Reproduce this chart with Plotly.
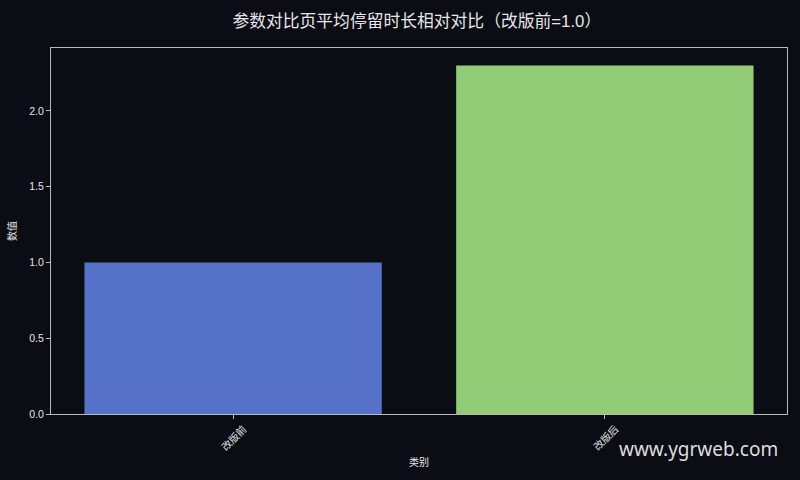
from plotly import graph_objects

categories = ['改版前', '改版后']
values = [1.0, 2.3]
bar_colors = ['#5572c8', '#93cc76']
y_ticks = [0.0, 0.5, 1.0, 1.5, 2.0]

bg = '#0b0d14'
fg = '#e6e6e6'
font_family = 'Liberation Sans, Noto Sans CJK SC, sans-serif'
positions = list(range(len(categories)))

figure = graph_objects.Figure()
figure.add_trace(graph_objects.Bar(
    x = positions,
    y = values,
    width = 0.8,
    marker = {
        'color': bar_colors,
        'line': {'width': 0}
    },
    showlegend = False
))

# rotated category labels centred under the ticks (matplotlib style)
for pos, label in zip(positions, categories):
    figure.add_annotation(
        text = label,
        x = pos, xref = 'x',
        y = 0, yref = 'paper',
        xanchor = 'center', yanchor = 'middle',
        yshift = -23,
        textangle = -45,
        showarrow = False,
        font = {'size': 10, 'color': fg, 'family': 'Noto Sans CJK SC, sans-serif'}
    )

figure.update_xaxes(
    range = [-0.49, 1.49],
    tickvals = positions,
    showticklabels = False,
    ticks = 'outside',
    ticklen = 4,
    tickcolor = '#bbbbbb',
    showline = True,
    linecolor = '#bbbbbb',
    linewidth = 1,
    mirror = True,
    showgrid = False,
    zeroline = False,
    title = {'text': '类别', 'font': {'size': 10, 'color': fg, 'family': 'Noto Sans CJK SC, sans-serif'}, 'standoff': 40}
)
figure.update_yaxes(
    range = [0, 2.415],
    tickvals = y_ticks,
    tickformat = '.1f',
    ticks = 'outside',
    ticklen = 4,
    tickcolor = '#bbbbbb',
    showline = True,
    linecolor = '#bbbbbb',
    linewidth = 1,
    mirror = True,
    showgrid = False,
    zeroline = False,
    tickfont = {'size': 10.5, 'color': fg},
    title = {'text': '数值', 'font': {'size': 10, 'color': fg, 'family': 'Noto Sans CJK SC, sans-serif'}, 'standoff': 10}
)

figure.add_annotation(
    text = 'www.ygrweb.com',
    xref = 'paper', yref = 'paper',
    x = 0.9905, y = -0.0956,
    xanchor = 'right', yanchor = 'middle',
    showarrow = False,
    font = {'size': 19, 'color': '#dddddd', 'family': 'Noto Sans, Open Sans, sans-serif'}
)

figure.update_layout(
    width = 800,
    height = 480,
    title = {
        'text': '参数对比页平均停留时长相对对比（改版前=1.0）',
        'x': 0.521, 'xanchor': 'center',
        'y': 0.957, 'yanchor': 'middle',
        'font': {'size': 16.8, 'color': fg, 'family': font_family}
    },
    font = {'family': font_family, 'color': fg},
    margin = {'l': 50, 'r': 12, 't': 48, 'b': 66, 'pad': 0},
    paper_bgcolor = bg,
    plot_bgcolor = bg
)

figure.write_html('out.html',
    config = {'displayModeBar': False},
    post_script = "document.body.style.margin = '0'; document.body.style.background = '" + bg + "';"
)
